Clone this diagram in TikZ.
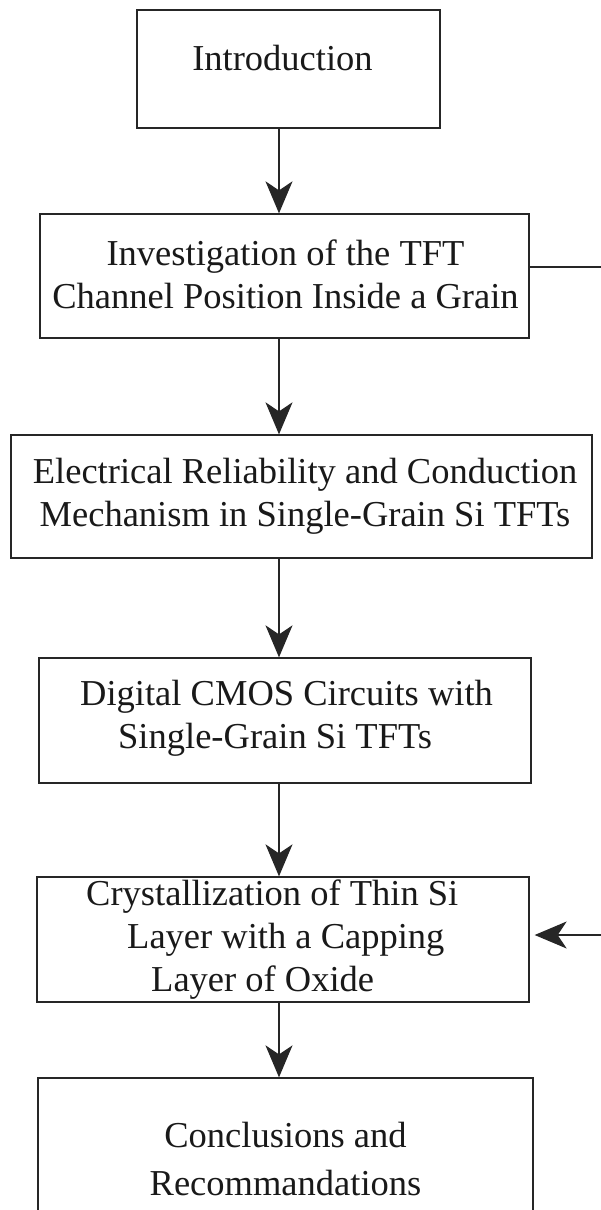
\documentclass[tikz,border=0pt]{standalone}
\usepackage{fontspec}
\setmainfont{Liberation Serif}
\usetikzlibrary{arrows.meta}
\begin{document}
\begin{tikzpicture}[x=1pt,y=-1pt,
  box/.style={draw=black!85,line width=1.3pt,rectangle,inner sep=0pt},
  lbl/.style={inner sep=0pt,text=black!90,font=\fontsize{36.5}{43}\selectfont},
  arr/.style={draw=black!85,line width=1.3pt,-{Stealth[length=32pt,width=27pt,inset=9pt]}},
  link/.style={draw=black!85,line width=1.3pt}]
\useasboundingbox (0,0) rectangle (601,1210);
\clip (0,0) rectangle (601,1210);

% boxes
\node[box,minimum width=303pt,minimum height=118pt] (introbox) at (288.5,69) {};
\node[box,minimum width=489pt,minimum height=124pt] (invbox) at (284.5,276) {};
\node[box,minimum width=581pt,minimum height=123pt] (elecbox) at (301.5,496.5) {};
\node[box,minimum width=492pt,minimum height=125pt] (digbox) at (285,720.5) {};
\node[box,minimum width=492pt,minimum height=125pt] (crybox) at (283,939.5) {};
\node[box,minimum width=495pt,minimum height=180pt] (concbox) at (285.5,1168) {};

% texts
\node[lbl] (introtxt) at (282.5,58) {Introduction};
\node[lbl,align=center] (invtxt) at (285.5,274.5) {Investigation of the TFT\\Channel Position Inside a Grain};
\node[lbl,align=center] (electxt) at (305,496.5) {Electrical Reliability and Conduction\\Mechanism in Single-Grain Si TFTs};
\node[lbl,align=left,anchor=west] (digtxt) at (80,718.5) {Digital CMOS Circuits with\\\hspace*{38pt}Single-Grain Si TFTs};
\node[lbl,align=left,anchor=west] (crytxt) at (86,940) {Crystallization of Thin Si\\\hspace*{41pt}Layer with a Capping\\\hspace*{65pt}Layer of Oxide};
\node[lbl,align=center] (conctxt) at (285.5,1159) {Conclusions and\\[5pt]Recommandations};

% connectors
\coordinate (ax) at (279,0);
\draw[arr] (introbox.south -| ax) -- (invbox.north -| ax);
\draw[arr] (invbox.south -| ax) -- (elecbox.north -| ax);
\draw[arr] (elecbox.south -| ax) -- (digbox.north -| ax);
\draw[arr] (digbox.south -| ax) -- (crybox.north -| ax);
\draw[arr] (crybox.south -| ax) -- (concbox.north -| ax);

\coordinate (fbout) at (601,267);
\draw[link] (invbox.east |- fbout) -- (fbout);
\coordinate (fbin) at (601,935);
\draw[arr,shorten >=5pt] (fbin) -- (crybox.east |- fbin);
\end{tikzpicture}
\end{document}
